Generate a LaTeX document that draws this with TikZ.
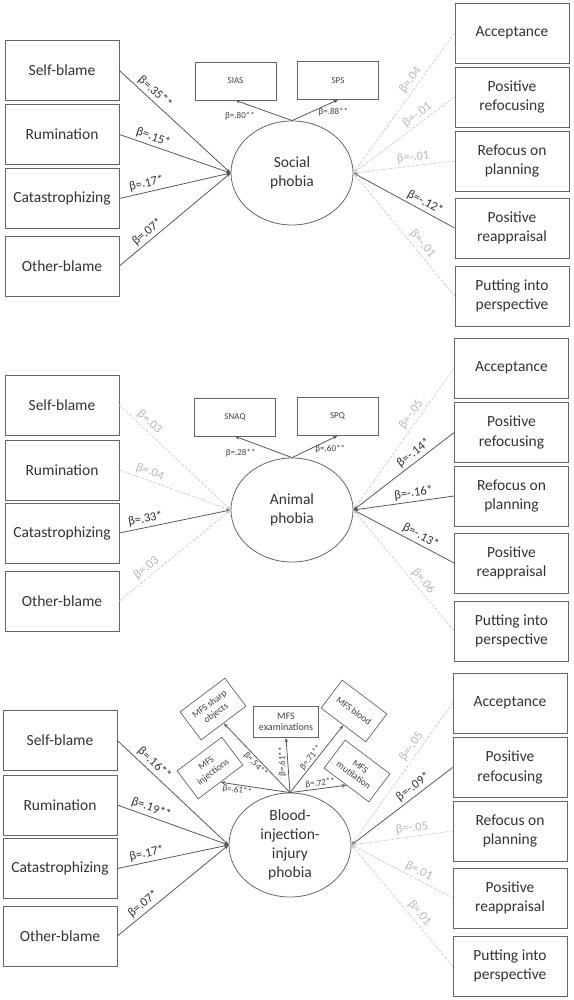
\documentclass[tikz,border=0pt]{standalone}
\usepackage{fontspec}
\setmainfont{Carlito}
\usetikzlibrary{shapes.geometric,arrows.meta}
\begin{document}
\begin{tikzpicture}[x=1pt,y=-1pt,
  cbox/.style={draw=black!60, line width=0.8pt, minimum width=114pt, minimum height=60pt, inner sep=2pt, align=center, text=black!80, font=\fontsize{15.5}{19.5}\selectfont},
  mbox/.style={draw=black!60, line width=0.7pt, minimum width=81pt, minimum height=38pt, inner sep=1pt, align=center, text=black!75, font=\fontsize{9}{10.5}\selectfont},
  rbox/.style={draw=black!60, line width=0.7pt, minimum width=56pt, minimum height=35pt, inner sep=1pt, align=center, text=black!75, font=\fontsize{9.5}{11}\selectfont},
  phob/.style={ellipse, draw=black!60, line width=0.8pt, minimum width=122pt, minimum height=104pt, inner sep=0pt, align=center, text=black!80, font=\fontsize{15.5}{19}\selectfont},
  sig/.style={draw=black!65, line width=0.8pt, -{Stealth[length=4.5pt,width=3.5pt]}},
  ns/.style={draw=black!20, line width=0.7pt, dash pattern=on 3pt off 1.5pt, -{Stealth[length=4.5pt,width=3.5pt]}},
  sl/.style={sloped, above, font=\fontsize{12.5}{13}\selectfont, text=black!80, inner sep=2.5pt},
  nl/.style={sloped, above, font=\fontsize{12.5}{13}\selectfont, text=black!28, inner sep=2.5pt},
  ml/.style={font=\fontsize{9}{10}\selectfont, text=black!75, inner sep=1pt},
]
\useasboundingbox (0,0) rectangle (573,1000);

% ---------------- Panel 1: Social phobia ----------------
\node[cbox] (sb1) at (62,70.5) {Self-blame};
\node[cbox] (ru1) at (62,134.5) {Rumination};
\node[cbox] (ca1) at (62,198.5) {Catastrophizing};
\node[cbox] (ob1) at (62,266) {Other-blame};
\node[cbox] (ac1) at (512,33) {Acceptance};
\node[cbox] (pr1) at (512,97) {Positive\\refocusing};
\node[cbox] (rp1) at (512,161) {Refocus on\\planning};
\node[cbox] (ra1) at (512,228) {Positive\\reappraisal};
\node[cbox] (pp1) at (512,296) {Putting into\\perspective};
\node[phob] (sp) at (292,173) {Social\\phobia};
\node[mbox] (sias) at (235.5,81) {SIAS};
\node[mbox] (sps) at (338,80.5) {SPS};

\draw[sig] (sp.north) -- node[ml, pos=0.92, below=9pt] {β=.80**} (sias.south);
\draw[sig] (sp.north) -- node[ml, pos=0.9, below=5pt] {β=.88**} (sps.south);

\draw[sig] (sb1.east) -- node[sl, pos=0.27] {β=.35**} (sp.west);
\draw[sig] (ru1.east) -- node[sl, pos=0.28] {β=.15*} (sp.west);
\draw[sig] (ca1.east) -- node[sl, pos=0.26] {β=.17*} (sp.west);
\draw[sig] (ob1.east) -- node[sl, pos=0.3] {β=.07*} (sp.west);

\draw[ns] (ac1.west) -- node[nl, pos=0.37] {β=.04} (sp.east);
\draw[ns] (pr1.west) -- node[nl, pos=0.32] {β=-.01} (sp.east);
\draw[ns] (rp1.west) -- node[nl, pos=0.4] {β=-.01} (sp.east);
\draw[sig] (ra1.west) -- node[sl, pos=0.33] {β=-.12*} (sp.east);
\draw[ns] (pp1.west) -- node[nl, pos=0.38] {β=-.01} (sp.east);

% ---------------- Panel 2: Animal phobia ----------------
\node[cbox] (sb2) at (62,405) {Self-blame};
\node[cbox] (ru2) at (62,470) {Rumination};
\node[cbox] (ca2) at (62,533) {Catastrophizing};
\node[cbox] (ob2) at (62,601) {Other-blame};
\node[cbox] (ac2) at (511.5,368) {Acceptance};
\node[cbox] (pr2) at (511.5,432.5) {Positive\\refocusing};
\node[cbox] (rp2) at (511.5,496) {Refocus on\\planning};
\node[cbox] (ra2) at (511.5,563) {Positive\\reappraisal};
\node[cbox] (pp2) at (511.5,631) {Putting into\\perspective};
\node[phob] (ap) at (292,510) {Animal\\phobia};
\node[mbox] (snaq) at (235,417) {SNAQ};
\node[mbox] (spq) at (337.5,416.5) {SPQ};

\draw[sig] (ap.north) -- node[ml, pos=0.9, below=9pt] {β=.28**} (snaq.south);
\draw[sig] (ap.north) -- node[ml, pos=0.84, below=4pt] {β=.60**} (spq.south);

\draw[ns] (sb2.east) -- node[nl, pos=0.22] {β=.03} (ap.west);
\draw[ns] (ru2.east) -- node[nl, pos=0.25] {β=.04} (ap.west);
\draw[sig] (ca2.east) -- node[sl, pos=0.25] {β=.33*} (ap.west);
\draw[ns] (ob2.east) -- node[nl, pos=0.29] {β=.03} (ap.west);

\draw[ns] (ac2.west) -- node[nl, pos=0.36] {β=-.05} (ap.east);
\draw[sig] (pr2.west) -- node[sl, pos=0.35] {β=-.14*} (ap.east);
\draw[sig] (rp2.west) -- node[sl, pos=0.39] {β=-.16*} (ap.east);
\draw[sig] (ra2.west) -- node[sl, pos=0.37] {β=-.13*} (ap.east);
\draw[ns] (pp2.west) -- node[nl, pos=0.37] {β=.06} (ap.east);

% ---------------- Panel 3: Blood-injection-injury phobia ----------------
\node[cbox] (sb3) at (60,740.5) {Self-blame};
\node[cbox] (ru3) at (60,805) {Rumination};
\node[cbox] (ca3) at (60,868.5) {Catastrophizing};
\node[cbox] (ob3) at (60,936) {Other-blame};
\node[cbox] (ac3) at (510,703) {Acceptance};
\node[cbox] (pr3) at (510,767.5) {Positive\\refocusing};
\node[cbox] (rp3) at (510,831) {Refocus on\\planning};
\node[cbox] (ra3) at (510,898) {Positive\\reappraisal};
\node[cbox] (pp3) at (510,966) {Putting into\\perspective};
\node[phob] (bp) at (290,845) {Blood-\\injection-\\injury\\phobia};

\node[rbox, rotate=37] (m1) at (210,768) {MFS\\injections};
\node[rbox, rotate=37] (m2) at (213,709) {MFS sharp\\objects};
\node[mbox, minimum width=65pt, minimum height=31pt, font=\fontsize{10}{11.5}\selectfont] (m3) at (286,722) {MFS\\examinations};
\node[rbox, rotate=-37] (m4) at (354,711) {MFS blood};
\node[rbox, rotate=-37] (m5) at (357,771) {MFS\\mutilation};

\draw[sig] (bp.north) -- node[ml, sloped, below, pos=0.75] {β=.61**} (m1.south);
\draw[sig] (bp.north) -- node[ml, sloped, below, pos=0.46] {β=.54**} (m2.south);
\draw[sig] (bp.north) -- node[ml, rotate=90, anchor=south, pos=0.56] {β=.61**} (m3.south);
\draw[sig] (bp.north) -- node[ml, sloped, above, pos=0.47] {β=.71**} (m4.south);
\draw[sig] (bp.north) -- node[ml, sloped, above, pos=0.55] {β=.72**} (m5.south);

\draw[sig] (sb3.east) -- node[sl, pos=0.28] {β=.16**} (bp.west);
\draw[sig] (ru3.east) -- node[sl, pos=0.28] {β=.19**} (bp.west);
\draw[sig] (ca3.east) -- node[sl, pos=0.28] {β=.17*} (bp.west);
\draw[sig] (ob3.east) -- node[sl, pos=0.28] {β=.07*} (bp.west);

\draw[ns] (ac3.west) -- node[nl, pos=0.34] {β=-.05} (bp.east);
\draw[sig] (pr3.west) -- node[sl, pos=0.34] {β=-.09*} (bp.east);
\draw[ns] (rp3.west) -- node[nl, pos=0.39] {β=-.05} (bp.east);
\draw[ns] (ra3.west) -- node[nl, pos=0.37] {β=.01} (bp.east);
\draw[ns] (pp3.west) -- node[nl, pos=0.39] {β=.01} (bp.east);
\end{tikzpicture}
\end{document}
